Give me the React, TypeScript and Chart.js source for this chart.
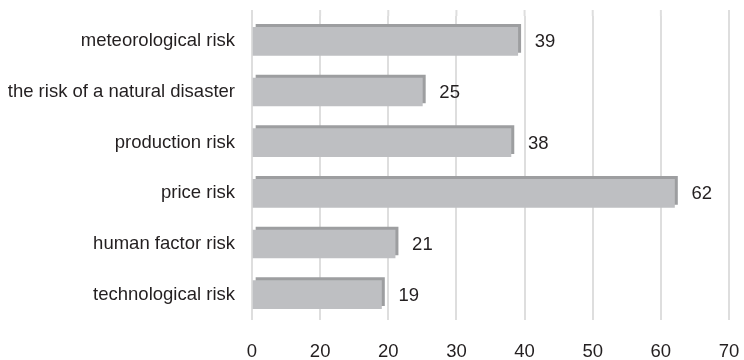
import React, { useEffect, useRef } from "react";
import { Chart, registerables } from "chart.js";

Chart.register(...registerables);

const categories = [
  "meteorological risk",
  "the risk of a natural disaster",
  "production risk",
  "price risk",
  "human factor risk",
  "technological risk",
];
const values = [39, 25, 38, 62, 21, 19];
const xTickLabels = ["0", "20", "20", "30", "40", "50", "60", "70"];

const FONT = "'Liberation Sans', Arial, sans-serif";
const FSIZE = 18.5;
const TEXT = "#231f20";

const shadowPlugin = {
  id: "barShadow",
  beforeDatasetDraw(chart: any) {
    const ctx = chart.ctx;
    ctx.save();
    ctx.shadowColor = "#9d9ea0";
    ctx.shadowOffsetX = 3;
    ctx.shadowOffsetY = -3;
    ctx.shadowBlur = 0;
  },
  afterDatasetDraw(chart: any) {
    chart.ctx.restore();
  },
};

const valueLabelPlugin = {
  id: "valueLabels",
  afterDatasetsDraw(chart: any) {
    const ctx = chart.ctx;
    const meta = chart.getDatasetMeta(0);
    ctx.save();
    ctx.font = `${FSIZE}px ${FONT}`;
    ctx.fillStyle = TEXT;
    ctx.textAlign = "left";
    ctx.textBaseline = "middle";
    meta.data.forEach((el: any, i: number) => {
      ctx.fillText(String(values[i]), el.x + 17, el.y + 1);
    });
    ctx.restore();
  },
};

const gridTopPlugin = {
  id: "gridTop",
  beforeDatasetsDraw(chart: any) {
    const ctx = chart.ctx;
    const xs = chart.scales.x;
    const top = chart.chartArea.top;
    ctx.save();
    ctx.strokeStyle = "#dedede";
    ctx.lineWidth = 2;
    xs.ticks.forEach((t: any) => {
      const px = xs.getPixelForValue(t.value);
      ctx.beginPath();
      ctx.moveTo(px, top - 6);
      ctx.lineTo(px, top);
      ctx.stroke();
    });
    ctx.restore();
  },
};

export default function App() {
  const ref = useRef<HTMLCanvasElement | null>(null);
  useEffect(() => {
    if (!ref.current) return;
    const chart = new Chart(ref.current, {
      type: "bar",
      data: {
        labels: categories,
        datasets: [
          {
            data: values,
            backgroundColor: "#bebfc2",
            borderWidth: 0,
            barThickness: 28,
          },
        ],
      },
      plugins: [shadowPlugin, valueLabelPlugin, gridTopPlugin],
      options: {
        indexAxis: "y",
        animation: false,
        responsive: false,
        maintainAspectRatio: false,
        layout: { padding: { top: 16, right: 15, left: 0, bottom: 0 } },
        plugins: { legend: { display: false }, tooltip: { enabled: false } },
        scales: {
          x: {
            min: 0,
            max: 70,
            ticks: {
              stepSize: 10,
              padding: 0,
              color: TEXT,
              font: { family: FONT, size: FSIZE },
              callback: (_v: any, i: number) => xTickLabels[i],
            },
            grid: {
              color: "#dedede",
              lineWidth: 2,
              drawTicks: true,
              tickLength: 21,
              tickColor: "rgba(0,0,0,0)",
            },
            border: { display: false },
            afterFit: (s: any) => {
              s.height = 40;
            },
          },
          y: {
            ticks: {
              padding: 0,
              color: TEXT,
              font: { family: FONT, size: FSIZE },
            },
            grid: {
              display: true,
              color: "rgba(0,0,0,0)",
              drawTicks: true,
              tickLength: 17,
              tickColor: "rgba(0,0,0,0)",
            },
            border: { display: false },
            afterFit: (s: any) => {
              s.width = 252;
            },
          },
        },
      },
    });
    return () => chart.destroy();
  }, []);
  return (
    <div style={{ position: "fixed", left: 0, top: 0, width: 744, height: 360, background: "#fff" }}>
      <canvas ref={ref} width={744} height={360} style={{ width: 744, height: 360 }} />
    </div>
  );
}
